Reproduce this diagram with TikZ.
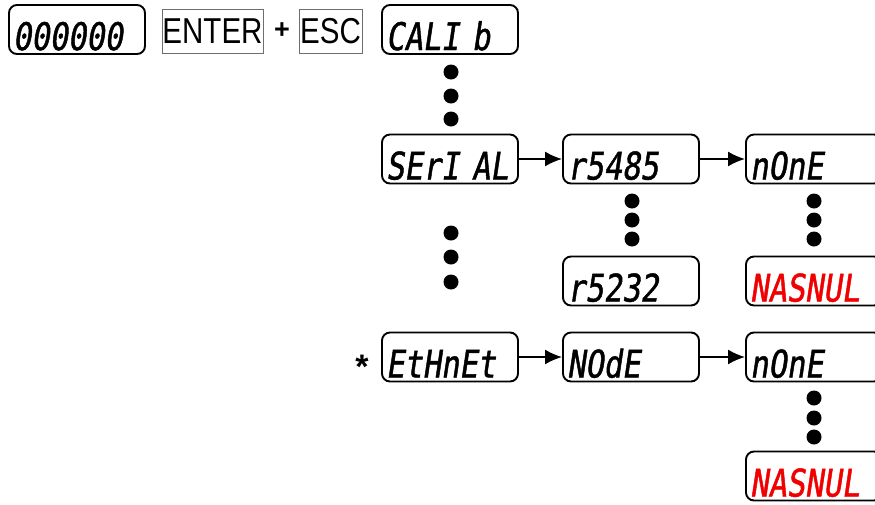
\documentclass[tikz,border=0pt]{standalone}
\usepackage{fontspec}
\setmainfont{Liberation Sans}
\newfontfamily\segfont[FakeSlant=0.15,FakeStretch=0.8,FakeBold=1.2]{DejaVu Sans Mono}
\newfontfamily\keyfont[FakeStretch=0.82]{Liberation Sans}
\usepackage{tikz}
\usetikzlibrary{arrows.meta, positioning}
\definecolor{segred}{RGB}{240,0,0}
\definecolor{keygray}{RGB}{110,110,110}
\tikzset{
  disp/.style={rectangle, draw=black, rounded corners=8pt, line width=1.9pt,
    inner xsep=4pt, inner ysep=0pt, text width=128pt, align=left,
    text height=45pt, text depth=4pt,
    font=\segfont\fontsize{38}{38}\selectfont},
  key/.style={rectangle, draw=keygray, line width=0.8pt, inner sep=0pt,
    minimum height=44pt, font=\keyfont\fontsize{36}{36}\selectfont},
  dot/.style={circle, fill=black, inner sep=0pt, minimum size=15pt},
  arrow/.style={-{Latex[length=17pt,width=15pt]}, line width=1.9pt}
}

\begin{document}
\begin{tikzpicture}[x=1pt, y=-1pt]
  \useasboundingbox (0,0) rectangle (875,504);
  \clip (0,0) rectangle (875,504);

  % Top row
  \node[disp] (zero) at (77,29.5) {000000};
  \node[key, minimum width=101pt] (enter) at (212.5,31) {ENTER};
  \node[font=\bfseries\fontsize{27}{27}\selectfont] (plus) at (282,31) {+};
  \node[key, minimum width=63pt] (esc) at (330.5,31) {ESC};
  \node[disp] (calib) at (450,29.5) {CALI b};

  % Menus
  \node[disp] (serial) at (450,159) {SErI AL};
  \node[disp] (rs485) at (631,159) {r5485};
  \node[disp] (none1) at (814,159) {nOnE};
  \node[disp] (rs232) at (631,281) {r5232};
  \node[disp, text=segred] (nasnul1) at (814,281) {NASNUL};

  \node[font=\bfseries\fontsize{34}{34}\selectfont, anchor=base] (star) at (362,378) {*};
  \node[disp] (ethnet) at (450,357) {EtHnEt};
  \node[disp] (mode) at (631,357) {NOdE};
  \node[disp] (none2) at (814,357) {nOnE};
  \node[disp, text=segred] (nasnul2) at (814,476) {NASNUL};

  % Dots
  \foreach \y [count=\i] in {72,96,119} \node[dot] (ca\i) at (451,\y) {};
  \foreach \y [count=\i] in {233,257,282} \node[dot] (cb\i) at (451,\y) {};
  \foreach \y [count=\i] in {201,220,239} {
    \node[dot] (rs\i) at (632,\y) {};
    \node[dot] (na\i) at (814,\y) {};
  }
  \foreach \y [count=\i] in {398,418,437} \node[dot] (nb\i) at (814,\y) {};

  % Paths
  \draw[arrow] (serial) -- (rs485);
  \draw[arrow] (rs485) -- (none1);
  \draw[arrow] (ethnet) -- (mode);
  \draw[arrow] (mode) -- (none2);
\end{tikzpicture}
\end{document}
